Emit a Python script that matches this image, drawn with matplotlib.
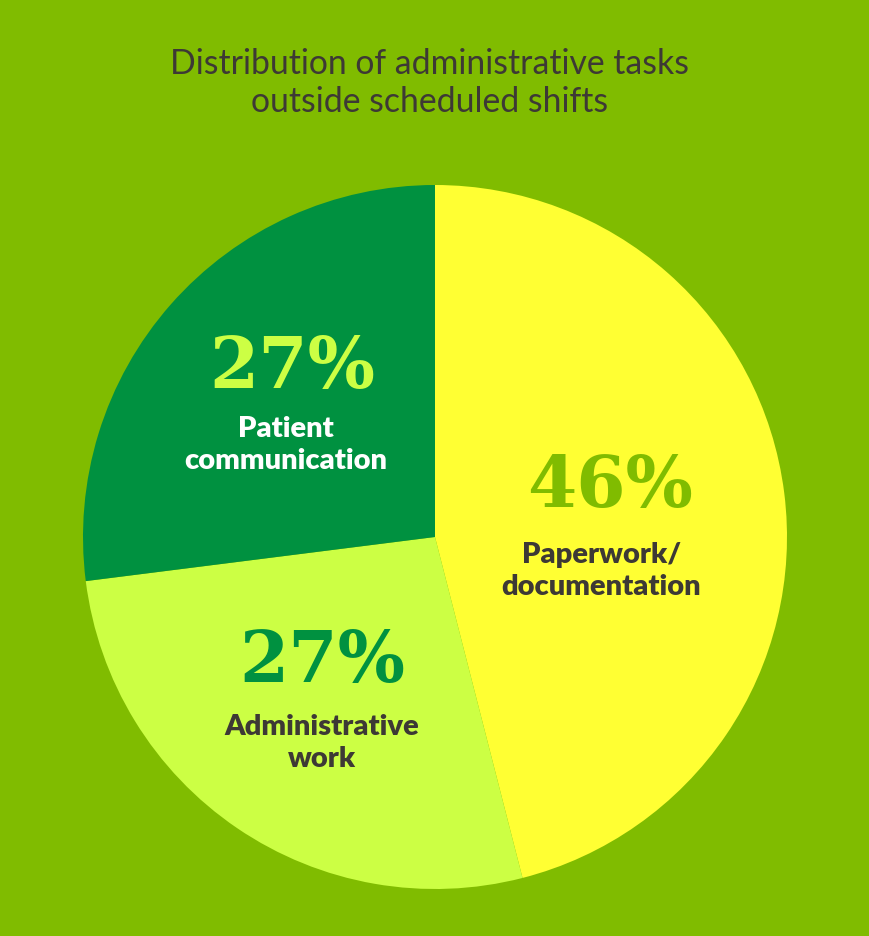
import matplotlib.pyplot as plt

# Data
categories = ["Paperwork/\ndocumentation", "Administrative\nwork", "Patient\ncommunication"]
shares = [46, 27, 27]

# Styles
bg_color = "#80BC00"
slice_colors = ["#FFFF33", "#CCFF44", "#009140"]
pct_colors = ["#80BC00", "#009140", "#CCFF44"]
label_colors = ["#3D3935", "#3D3935", "#FFFFFF"]
# label positions in pie units (center 0,0, radius 1)
pct_pos = [(0.497, 0.14), (-0.321, -0.357), (-0.406, 0.48)]
label_pos = [(0.472, -0.097), (-0.321, -0.585), (-0.423, 0.261)]

fig = plt.figure(figsize=(8.7, 9.36), dpi=100)
fig.patch.set_facecolor(bg_color)

fig.text(0.494, 0.9115, "Distribution of administrative tasks\noutside scheduled shifts",
         ha="center", va="center", fontsize=24.3, color="#3D3935",
         family="Lato", linespacing=1.22)

ax = fig.add_axes([83 / 870, 47 / 936, 704 / 870, 704 / 936])
ax.pie(shares, colors=slice_colors, startangle=90, counterclock=False,
       radius=1, wedgeprops=dict(linewidth=0))
ax.set_xlim(-1, 1)
ax.set_ylim(-1, 1)
ax.set_aspect("equal")
ax.axis("off")

for i in range(len(shares)):
    ax.text(pct_pos[i][0], pct_pos[i][1], f"{shares[i]}%", ha="center", va="center",
            fontsize=51, fontweight="heavy", family="DejaVu Serif", color=pct_colors[i])
    ax.text(label_pos[i][0], label_pos[i][1], categories[i], ha="center", va="center",
            fontsize=21, fontweight="heavy", family="Lato", color=label_colors[i],
            linespacing=1.3)

fig.savefig("out.png", dpi=100, facecolor=bg_color)
